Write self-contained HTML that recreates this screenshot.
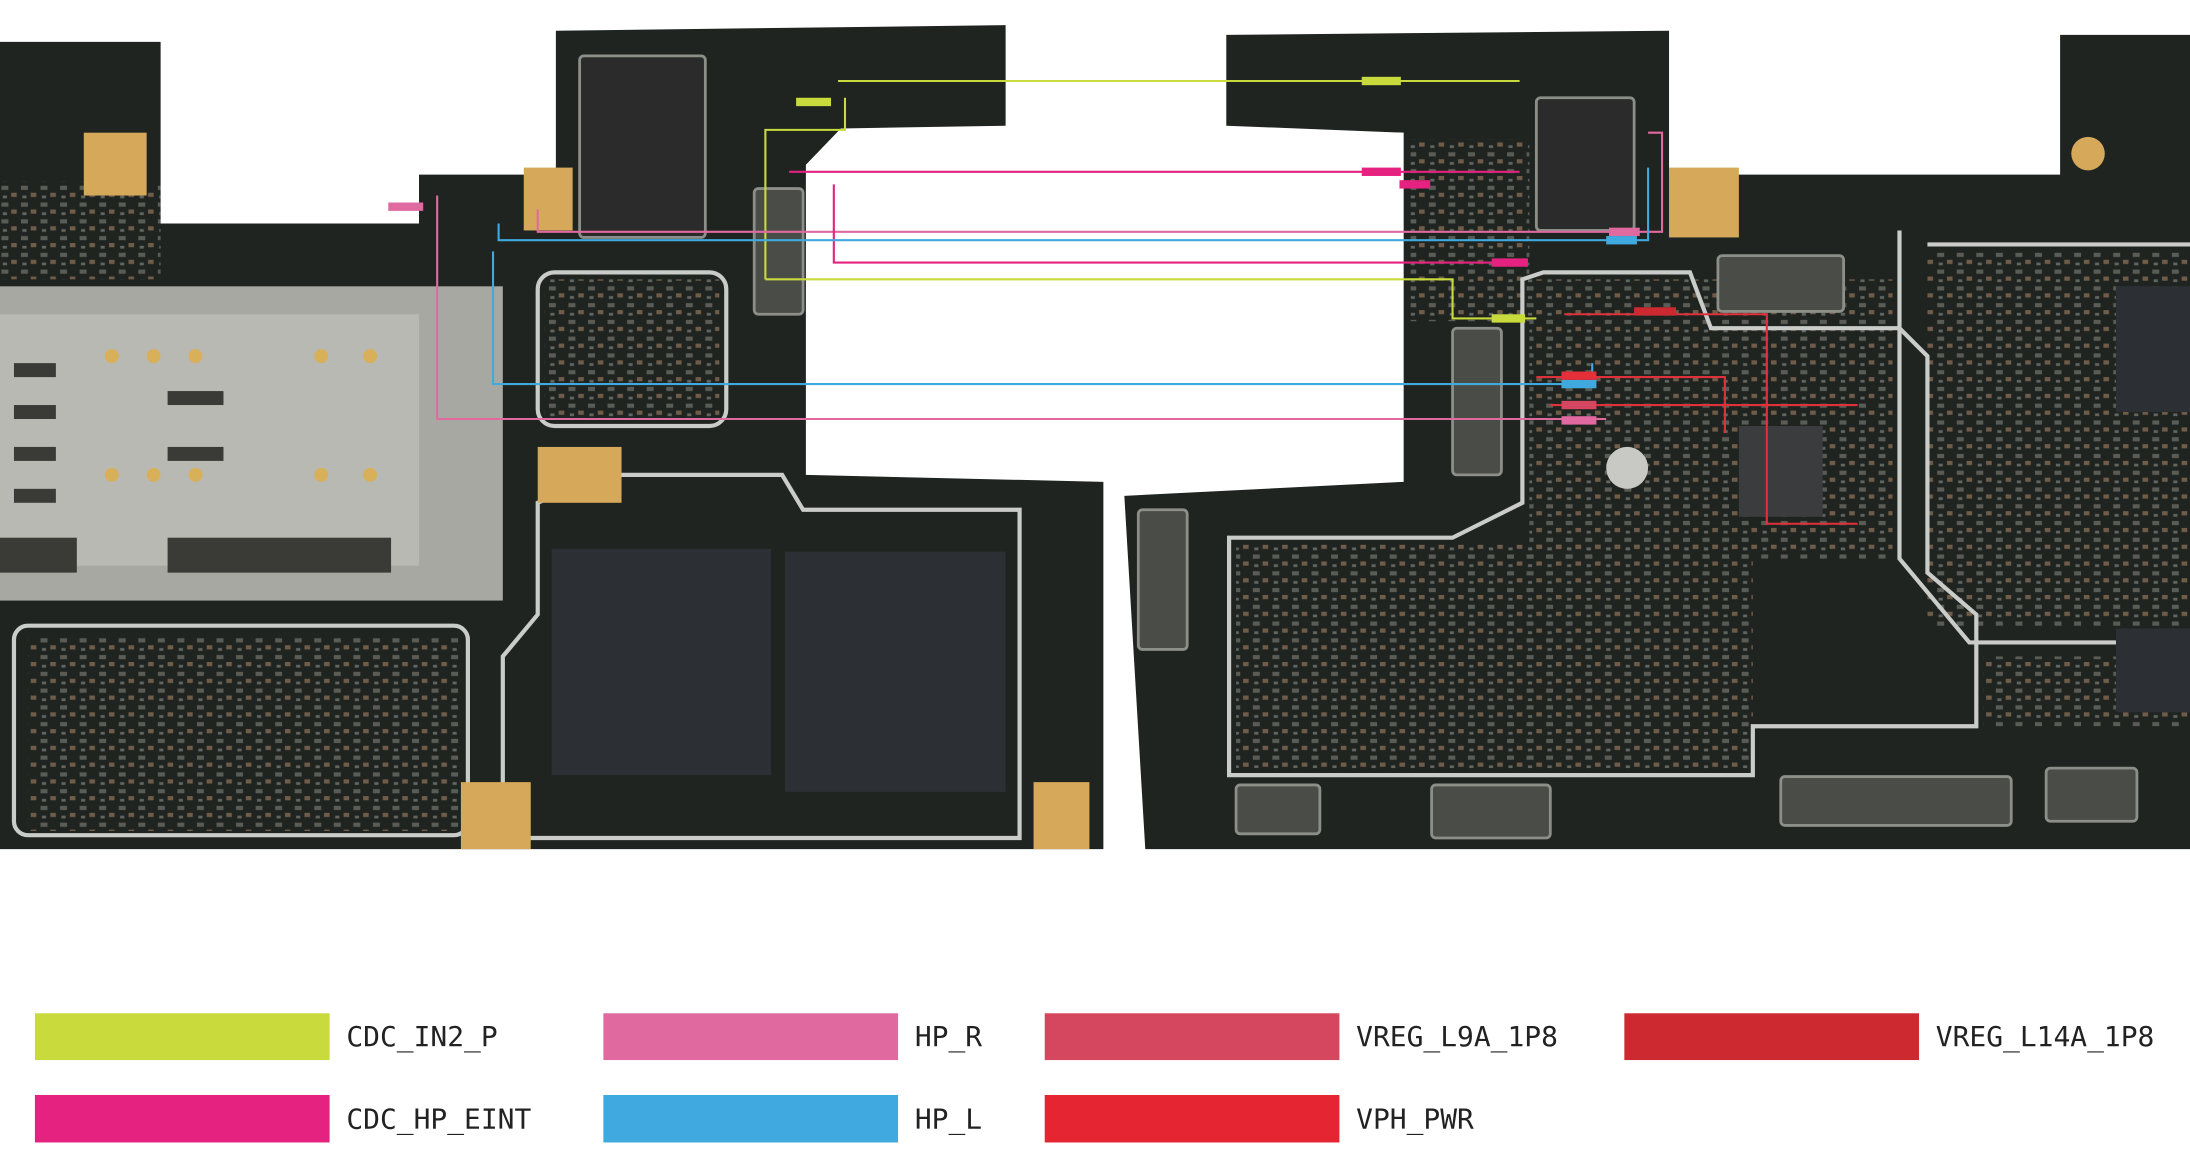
<!DOCTYPE html>
<html><head><meta charset="utf-8"><style>
html,body{margin:0;padding:0;background:#fff;}
svg{display:block}
</style></head><body>
<svg width="2190" height="1163" viewBox="0 0 1568 832.7" preserveAspectRatio="none" xmlns="http://www.w3.org/2000/svg">
<defs>
<pattern id="comp" width="14" height="12" patternUnits="userSpaceOnUse">
<rect x="1" y="1" width="5" height="3" fill="#8a8a80"/>
<rect x="8" y="6" width="4" height="3" fill="#b08a6a"/>
<rect x="2" y="8" width="3" height="2" fill="#9a9a90"/>
</pattern>
</defs>
<rect width="1568" height="832.7" fill="#fff"/>
<!-- left board -->
<polygon points="0,30 115,30 115,160 300,160 300,125 398,125 398,22 720,18 720,90 602,92 577,118 577,340 790,345 790,608 0,608" fill="#1f2421"/>
<!-- right board -->
<polygon points="878,25 1195,22 1195,125 1475,125 1475,25 1568,25 1568,608 820,608 805,355 1005,345 1005,95 878,90" fill="#1f2421"/>
<!-- component texture -->
<g fill="url(#comp)" opacity="0.55">
<rect x="20" y="455" width="310" height="140"/>
<rect x="390" y="200" width="125" height="100"/>
<rect x="885" y="390" width="370" height="160"/>
<rect x="1380" y="180" width="188" height="270"/>
<rect x="1095" y="200" width="260" height="200"/>
<rect x="1420" y="470" width="148" height="50"/>
<rect x="0" y="130" width="115" height="70"/>
<rect x="1010" y="100" width="85" height="130"/>
</g>
<!-- SIM tray -->
<rect x="0" y="205" width="360" height="225" fill="#a8a8a2"/>
<rect x="0" y="225" width="300" height="180" fill="#b9b9b3"/>
<g fill="#3a3a36">
<rect x="10" y="260" width="30" height="10"/><rect x="10" y="290" width="30" height="10"/><rect x="10" y="320" width="30" height="10"/><rect x="10" y="350" width="30" height="10"/>
<rect x="120" y="280" width="40" height="10"/><rect x="120" y="320" width="40" height="10"/>
<rect x="0" y="385" width="55" height="25"/><rect x="120" y="385" width="160" height="25"/>
</g>
<g fill="#d8b05a">
<circle cx="80" cy="255" r="5"/><circle cx="110" cy="255" r="5"/><circle cx="140" cy="255" r="5"/><circle cx="230" cy="255" r="5"/><circle cx="265" cy="255" r="5"/>
<circle cx="80" cy="340" r="5"/><circle cx="110" cy="340" r="5"/><circle cx="140" cy="340" r="5"/><circle cx="230" cy="340" r="5"/><circle cx="265" cy="340" r="5"/>
</g>
<!-- shield outlines -->
<g fill="none" stroke="#c9ccc8" stroke-width="3">
<rect x="385" y="195" width="135" height="110" rx="12"/>
<rect x="10" y="448" width="325" height="150" rx="10"/>
<path d="M360 600 V470 L385 440 V360 L430 340 H560 L575 365 H730 V600 Z"/>
<path d="M880 555 V385 H1040 L1090 360 V200 L1105 195 H1210 L1225 235 H1360 L1380 255 V410 L1415 440 V520 H1255 V555 Z"/>
<path d="M1380 175 H1568 M1360 165 V400 L1410 460 H1568"/>
</g>
<!-- chips -->
<rect x="395" y="393" width="157" height="162" fill="#2c3034"/>
<rect x="562" y="395" width="158" height="172" fill="#2c3034"/>
<rect x="1245" y="305" width="60" height="65" fill="#3a3c3e"/>
<rect x="1515" y="205" width="53" height="90" fill="#2c3034"/>
<rect x="1515" y="450" width="53" height="60" fill="#2c3034"/>
<!-- connectors -->
<g fill="#4a4c48" stroke="#8c8e88" stroke-width="2">
<rect x="540" y="135" width="35" height="90" rx="3"/>
<rect x="1040" y="235" width="35" height="105" rx="3"/>
<rect x="815" y="365" width="35" height="100" rx="3"/>
<rect x="1230" y="183" width="90" height="40" rx="3"/>
<rect x="1275" y="556" width="165" height="35" rx="3"/>
<rect x="1025" y="562" width="85" height="38" rx="3"/>
<rect x="885" y="562" width="60" height="35" rx="3"/>
<rect x="1465" y="550" width="65" height="38" rx="3"/>
<rect x="1100" y="70" width="70" height="95" rx="3" fill="#2a2b2a"/>
<rect x="415" y="40" width="90" height="130" rx="3" fill="#2a2b2a"/>
</g>
<!-- gold pads -->
<g fill="#d6a95a">
<rect x="60" y="95" width="45" height="45"/><rect x="375" y="120" width="35" height="45"/>
<rect x="385" y="320" width="60" height="40"/><rect x="330" y="560" width="50" height="48"/>
<rect x="740" y="560" width="40" height="48"/><rect x="1195" y="120" width="50" height="50"/>
<circle cx="1495" cy="110" r="12"/><circle cx="1165" cy="335" r="15" fill="#c8c8c4"/>
</g>
<!-- colored lines -->
<g fill="none" stroke-width="1.5">
<path d="M600 58 H1088" stroke="#c8da3c"/>
<path d="M548 200 V93 H605 V70 M548 200 H1040 V228 H1100" stroke="#c8da3c"/>
<path d="M385 150 V166 H1190 V95 H1180 M313 140 V300 H1150" stroke="#e06aa0"/>
<path d="M565 123 H1088 M597 132 V188 H1090 M1005 132 H1020" stroke="#e5227f"/>
<path d="M357 160 V172 H1180 V120 M353 180 V275 H1140 V260" stroke="#3fa9e0"/>
<path d="M1120 225 H1265 V300 M1100 270 H1235 V310 M1110 290 H1330 M1265 300 V375 H1330" stroke="#e0303a"/>
</g>
<g>
<rect x="975" y="55" width="28" height="6" fill="#c8da3c"/>
<rect x="570" y="70" width="25" height="6" fill="#c8da3c"/>
<rect x="975" y="120" width="28" height="6" fill="#e5227f"/>
<rect x="1002" y="129" width="22" height="6" fill="#e5227f"/>
<rect x="1068" y="185" width="26" height="6" fill="#e5227f"/>
<rect x="278" y="145" width="25" height="6" fill="#e06aa0"/>
<rect x="1152" y="163" width="22" height="6" fill="#e06aa0"/>
<rect x="1150" y="169" width="22" height="6" fill="#3fa9e0"/>
<rect x="1118" y="272" width="25" height="6" fill="#3fa9e0"/>
<rect x="1118" y="266" width="25" height="6" fill="#e5303a"/>
<rect x="1118" y="287" width="25" height="6" fill="#d54660"/>
<rect x="1118" y="298" width="25" height="6" fill="#e06aa0"/>
<rect x="1170" y="220" width="30" height="6" fill="#cc2a30"/>
<rect x="1068" y="225" width="24" height="6" fill="#c8da3c"/>
</g>
<!-- legend -->
<g font-family="DejaVu Sans Mono, Liberation Mono, monospace" font-size="20" fill="#222">
<rect x="25" y="725.5" width="211" height="33.5" fill="#c8da3c"/><text x="248" y="749">CDC_IN2_P</text>
<rect x="432" y="725.5" width="211" height="33.5" fill="#e06aa0"/><text x="655" y="749">HP_R</text>
<rect x="748" y="725.5" width="211" height="33.5" fill="#d4475e"/><text x="971" y="749">VREG_L9A_1P8</text>
<rect x="1163" y="725.5" width="211" height="33.5" fill="#cc2a30"/><text x="1386" y="749">VREG_L14A_1P8</text>
<rect x="25" y="784" width="211" height="34" fill="#e5227f"/><text x="248" y="808">CDC_HP_EINT</text>
<rect x="432" y="784" width="211" height="34" fill="#3fa9e0"/><text x="655" y="808">HP_L</text>
<rect x="748" y="784" width="211" height="34" fill="#e52532"/><text x="971" y="808">VPH_PWR</text>
</g>
</svg>
</body></html>
